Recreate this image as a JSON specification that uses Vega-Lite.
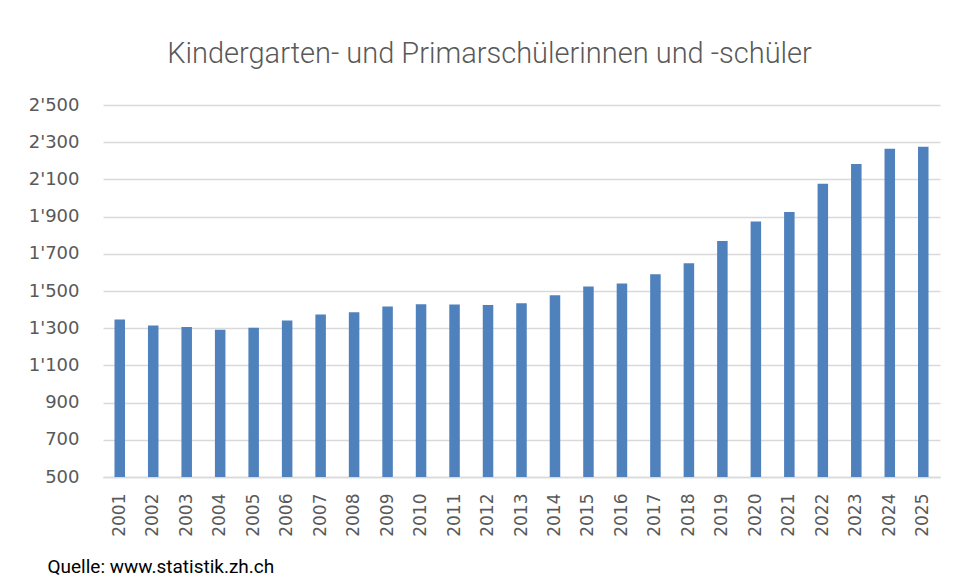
{
  "$schema": "https://vega.github.io/schema/vega-lite/v6.json",
  "width": 837,
  "height": 372,
  "autosize": {"type": "none"},
  "padding": {"left": 103, "top": 105, "right": 17, "bottom": 104},
  "background": "white",
  "title": {
    "text": "Kindergarten- und Primarschülerinnen und -schüler",
    "anchor": "middle",
    "frame": "group",
    "dx": -32,
    "offset": 4,
    "baseline": "alphabetic",
    "font": "Roboto",
    "fontSize": 29,
    "fontWeight": 300,
    "color": "#595959"
  },
  "data": {
    "values": [
      {"Jahr": "2001", "Anzahl": 1347},
      {"Jahr": "2002", "Anzahl": 1315},
      {"Jahr": "2003", "Anzahl": 1306},
      {"Jahr": "2004", "Anzahl": 1291},
      {"Jahr": "2005", "Anzahl": 1302},
      {"Jahr": "2006", "Anzahl": 1341},
      {"Jahr": "2007", "Anzahl": 1374},
      {"Jahr": "2008", "Anzahl": 1386},
      {"Jahr": "2009", "Anzahl": 1417},
      {"Jahr": "2010", "Anzahl": 1429},
      {"Jahr": "2011", "Anzahl": 1428},
      {"Jahr": "2012", "Anzahl": 1425},
      {"Jahr": "2013", "Anzahl": 1434},
      {"Jahr": "2014", "Anzahl": 1477},
      {"Jahr": "2015", "Anzahl": 1524},
      {"Jahr": "2016", "Anzahl": 1540},
      {"Jahr": "2017", "Anzahl": 1590},
      {"Jahr": "2018", "Anzahl": 1649},
      {"Jahr": "2019", "Anzahl": 1769},
      {"Jahr": "2020", "Anzahl": 1873},
      {"Jahr": "2021", "Anzahl": 1925},
      {"Jahr": "2022", "Anzahl": 2077},
      {"Jahr": "2023", "Anzahl": 2183},
      {"Jahr": "2024", "Anzahl": 2265},
      {"Jahr": "2025", "Anzahl": 2276}
    ]
  },
  "mark": {"type": "bar", "color": "#4F81BD"},
  "encoding": {
    "x": {
      "field": "Jahr",
      "type": "ordinal",
      "scale": {"paddingInner": 0.686, "paddingOuter": 0.343},
      "axis": {
        "title": "Quelle: www.statistik.zh.ch",
        "titleX": -56,
        "titleY": 95,
        "titleAlign": "left",
        "titleBaseline": "alphabetic",
        "titleFont": "Roboto",
        "titleFontSize": 19,
        "titleFontWeight": "normal",
        "titleColor": "#000000",
        "labelAngle": 270,
        "labelAlign": "right",
        "labelBaseline": "middle",
        "labelPadding": 16,
        "labelFont": "DejaVu Sans",
        "labelFontSize": 17,
        "labelColor": "#595959",
        "ticks": false,
        "domain": true,
        "domainColor": "#D9D9D9",
        "domainWidth": 1.5,
        "grid": false
      }
    },
    "y": {
      "field": "Anzahl",
      "type": "quantitative",
      "scale": {"domain": [500, 2500], "zero": false, "nice": false},
      "axis": {
        "title": null,
        "values": [500, 700, 900, 1100, 1300, 1500, 1700, 1900, 2100, 2300, 2500],
        "format": ",d",
        "labelFont": "DejaVu Sans",
        "labelFontSize": 18,
        "labelColor": "#595959",
        "labelPadding": 24,
        "ticks": false,
        "domain": false,
        "grid": true,
        "gridColor": "#D9D9D9",
        "gridWidth": 1.5
      }
    },
    "y2": {"datum": 500}
  },
  "config": {
    "view": {"stroke": null},
    "locale": {
      "number": {"decimal": ".", "thousands": "'", "grouping": [3], "currency": ["", ""]}
    }
  }
}
